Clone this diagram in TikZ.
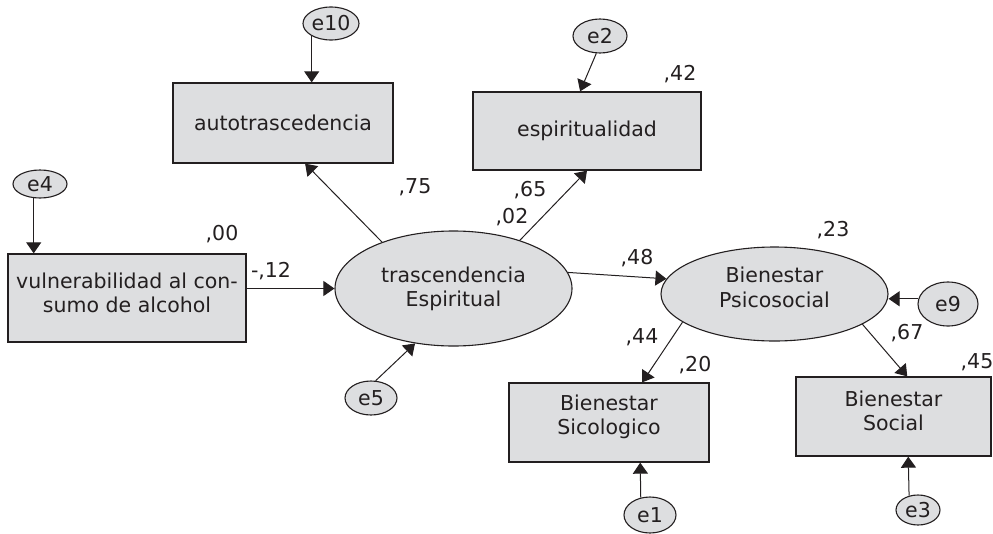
\documentclass[tikz,border=0pt]{standalone}
\usepackage{fontspec}
\setmainfont{DejaVu Sans}
\usetikzlibrary{shapes.geometric,arrows.meta,calc}
\definecolor{semcolor0000}{RGB}{221,222,224}
\definecolor{semcolor0001}{RGB}{35,31,32}
\begin{document}
\begin{tikzpicture}[yscale=-1
,font=\fontsize{20.5pt}{24pt}\selectfont
,sstyle0/.style={rectangle,draw=semcolor0001,fill=semcolor0000,line width=1.3pt,inner sep=0pt,align=center,text=semcolor0001}
,sstyle1/.style={ellipse,draw=semcolor0001,fill=semcolor0000,line width=1.1pt,inner sep=0pt,align=center,text=semcolor0001}
,sstyle2/.style={color=semcolor0001,line width=1pt,-{Triangle[length=11pt,width=15pt]}}
,sstyle3/.style={text=semcolor0001,inner sep=0pt}
]
\useasboundingbox (0pt,0pt) rectangle (993pt,533pt);
\node[sstyle0,minimum width=238pt,minimum height=88pt,text depth=11pt] (vul) at (127pt,298pt) {vulnerabilidad al con-\\sumo de alcohol};
\node[sstyle0,minimum width=220pt,minimum height=80pt] (aut) at (283pt,123pt) {autotrascedencia};
\node[sstyle0,minimum width=228pt,minimum height=78pt] (esp) at (587pt,131pt) {espiritualidad};
\node[sstyle0,minimum width=200pt,minimum height=79pt,text depth=16pt] (sic) at (609pt,422.5pt) {Bienestar\\Sicologico};
\node[sstyle0,minimum width=195pt,minimum height=79pt,text depth=11pt] (soc) at (893.5pt,416.5pt) {Bienestar\\Social};
\node[sstyle1,minimum width=237pt,minimum height=115pt] (tras) at (453.5pt,288.5pt) {trascendencia\\Espiritual};
\node[sstyle1,minimum width=227pt,minimum height=94pt,text depth=14pt] (psi) at (774.5pt,294pt) {Bienestar\\[1pt]Psicosocial};
\node[sstyle1,minimum width=54pt,minimum height=28pt] (e4) at (40pt,184pt) {e4};
\node[sstyle1,minimum width=56pt,minimum height=33pt] (e10) at (331pt,23.5pt) {e10};
\node[sstyle1,minimum width=54pt,minimum height=34pt] (e2) at (600pt,36pt) {e2};
\node[sstyle1,minimum width=52pt,minimum height=34pt] (e5) at (371pt,398pt) {e5};
\node[sstyle1,minimum width=60pt,minimum height=44pt] (e9) at (948pt,304pt) {e9};
\node[sstyle1,minimum width=52pt,minimum height=36pt] (e1) at (650pt,515pt) {e1};
\node[sstyle1,minimum width=44pt,minimum height=30pt] (e3) at (918pt,510pt) {e3};
\draw[sstyle2] (e4.246) -- (e4.246 |- vul.north);
\draw[sstyle2] (e10.213) -- (e10.213 |- aut.north);
\draw[sstyle2] (e2.258) -- ($(esp.north)!0.06!(esp.north west)$);
\draw[sstyle2] (vul.east |- tras.west) -- (tras.west);
\draw[sstyle2] (tras.147) -- ($(aut.south)!0.2!(aut.south east)$);
\draw[sstyle2] (tras.36) -- (esp.south);
\draw[sstyle2] (e5.75) -- (tras.235);
\draw[sstyle2] (tras.8) -- (psi.172);
\draw[sstyle2] (e9.170) -- (e9.170 -| psi.east);
\draw[sstyle2] (psi.197) -- ($(sic.north)!0.33!(sic.north east)$);
\draw[sstyle2] (psi.341) -- ($(soc.north)!0.14!(soc.north east)$);
\draw[sstyle2] (e1.118) -- ($(sic.south)!0.31!(sic.south east)$);
\draw[sstyle2] (e3.122) -- ($(soc.south)!0.15!(soc.south east)$);
\node[sstyle3] (r00) at (222pt,234pt) {,00};
\node[sstyle3] (w12) at (271pt,271pt) {-,12};
\node[sstyle3] (w75) at (415pt,187pt) {,75};
\node[sstyle3] (w65) at (530pt,190pt) {,65};
\node[sstyle3] (r02) at (512pt,217pt) {,02};
\node[sstyle3] (r42) at (680pt,74pt) {,42};
\node[sstyle3] (w48) at (637pt,258pt) {,48};
\node[sstyle3] (r23) at (833pt,230pt) {,23};
\node[sstyle3] (w44) at (642pt,337pt) {,44};
\node[sstyle3] (r20) at (695pt,365pt) {,20};
\node[sstyle3] (w67) at (907pt,333pt) {,67};
\node[sstyle3] (r45) at (977pt,362pt) {,45};
\end{tikzpicture}
\end{document}
